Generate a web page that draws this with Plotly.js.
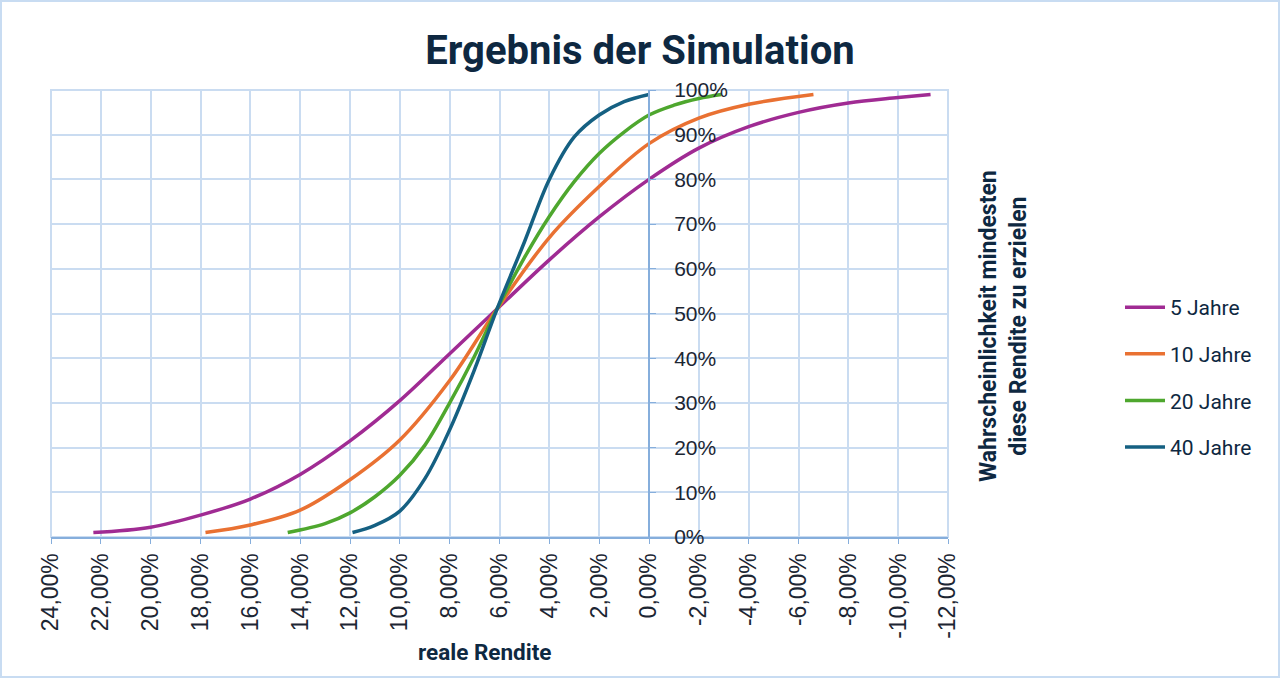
<!DOCTYPE html>
<html>
<head>
<meta charset="utf-8">
<script src="https://cdn.plot.ly/plotly-3.0.1.min.js"></script>
<style>html,body{margin:0;padding:0;background:#fff;}#chart{width:1280px;height:678px;}</style>
</head>
<body>
<div id="chart"></div>
<script>
// Series names
const seriesNames = ["5 Jahre", "10 Jahre", "20 Jahre", "40 Jahre"];
// reale Rendite (%) and probability (%) per series
const x5  = [22.3, 20, 18, 16, 14, 12, 10, 8, 6.1, 4, 2, 0, -2, -4, -6, -8, -10, -11.3];
const y5  = [1, 2.2, 4.9, 8.5, 14, 21.5, 30.5, 41, 51, 62, 71.6, 80, 87, 91.8, 95, 97.1, 98.3, 99];
const x10 = [17.8, 16, 14, 12, 10, 8, 6.1, 4, 2, 0, -2, -4, -6.6];
const y10 = [1, 2.7, 6, 12.8, 21.7, 35, 51, 67, 78.4, 88, 93.7, 96.8, 99];
const x20 = [14.5, 13, 12, 11, 10, 9, 8, 7, 6.1, 5, 4, 3, 2, 1, 0, -1, -2, -2.9];
const y20 = [1, 3, 5.4, 9, 13.8, 20.5, 30, 40.5, 51, 62.5, 71.7, 79.5, 85.8, 90.6, 94.4, 96.6, 98.1, 99];
const x40 = [11.9, 11, 10, 9, 8, 7, 6.1, 5, 4, 3, 2, 1, 0];
const y40 = [1, 2.6, 5.8, 13, 24, 37.5, 51, 66, 80, 89.5, 94.4, 97.4, 99];
// Axis ticks
const xTickVals = [24, 22, 20, 18, 16, 14, 12, 10, 8, 6, 4, 2, 0, -2, -4, -6, -8, -10, -12];
const xTickText = ["24,00%", "22,00%", "20,00%", "18,00%", "16,00%", "14,00%", "12,00%", "10,00%", "8,00%", "6,00%", "4,00%", "2,00%", "0,00%", "-2,00%", "-4,00%", "-6,00%", "-8,00%", "-10,00%", "-12,00%"];
const yTickVals = [0, 10, 20, 30, 40, 50, 60, 70, 80, 90, 100];
const yTickText = ["0%", "10%", "20%", "30%", "40%", "50%", "60%", "70%", "80%", "90%", "100%"];

const colors = ["#A02B93", "#E97132", "#4EA72E", "#156082"];
const xs = [x5, x10, x20, x40];
const ys = [y5, y10, y20, y40];

const navy = "#0E2841";
const gridC = "#cadcf1";
const axisC = "#86aedc";
const boldFont = "Roboto, 'Open Sans', sans-serif";

const traces = seriesNames.map((n, i) => ({
  type: "scatter", mode: "lines", name: n,
  x: xs[i], y: ys[i], legendgroup: "g" + i,
  line: {color: colors[i], width: 3.5, shape: "spline", smoothing: 1}
}));

const L = 51, R = 948, T = 90, B = 537, W = 1280, H = 678;
const pw = R - L, ph = B - T;
const px = v => (v - L) / pw;
const py = v => (B - v) / ph;

const layout = {
  width: W, height: H,
  margin: {l: L, r: W - R, t: T, b: H - B, pad: 0},
  paper_bgcolor: "#ffffff", plot_bgcolor: "#ffffff",
  showlegend: true,
  title: {text: "<b>Ergebnis der Simulation</b>", x: 0.5, xref: "container", xanchor: "center",
          y: 1 - 50 / H, yref: "container", yanchor: "middle",
          font: {family: boldFont, size: 40, color: navy}},
  xaxis: {
    range: [24, -12], autorange: false,
    tickmode: "array", tickvals: xTickVals, ticktext: xTickText, tickangle: -90,
    showgrid: true, gridcolor: gridC, gridwidth: 2,
    zeroline: false,
    showline: true, linecolor: axisC, linewidth: 2,
    ticks: "outside", ticklen: 5, tickcolor: axisC,
    tickfont: {family: "'Liberation Sans', Arial, sans-serif", size: 23, color: "#1c2633"}
  },
  yaxis: {
    range: [0, 100], autorange: false,
    tickmode: "array", tickvals: yTickVals, ticktext: yTickText,
    anchor: "free", position: 12 / 18, side: "right",
    showgrid: true, gridcolor: gridC, gridwidth: 2,
    zeroline: false,
    showline: true, linecolor: axisC, linewidth: 2,
    ticks: "outside", ticklen: 6, tickcolor: axisC,
    ticklabelstandoff: 14,
    tickfont: {family: "'Liberation Sans', Arial, sans-serif", size: 21, color: "#1c2633"}
  },
  legend: {
    x: px(1120), xanchor: "left", y: py(305) + 0.04, yanchor: "top",
    font: {family: boldFont, size: 21, color: navy},
    tracegroupgap: 16.3, bgcolor: "rgba(0,0,0,0)", itemwidth: 40
  },
  annotations: [
    {text: "<b>Wahrscheinlichkeit mindesten<br>diese Rendite zu erzielen</b>", textangle: -90,
     xref: "paper", yref: "paper", x: px(1003), y: py(326), xanchor: "center", yanchor: "middle",
     showarrow: false, font: {family: boldFont, size: 23, color: navy}},
    {text: "<b>reale Rendite</b>", xref: "paper", yref: "paper", x: px(484), y: py(652),
     xanchor: "center", yanchor: "middle", showarrow: false,
     font: {family: boldFont, size: 22.5, color: navy}}
  ],
  shapes: [
    {type: "rect", xref: "paper", yref: "paper", x0: 0, x1: 1, y0: 0, y1: 1,
     line: {color: gridC, width: 2}, fillcolor: "rgba(0,0,0,0)", layer: "below"},
    {type: "rect", xref: "paper", yref: "paper", x0: px(1), x1: px(W - 1), y0: py(H - 1), y1: py(1),
     line: {color: "#c8dcf2", width: 2}, fillcolor: "rgba(0,0,0,0)", layer: "above"}
  ]
};

Plotly.newPlot("chart", traces, layout, {displayModeBar: false, staticPlot: true});
</script>
</body>
</html>
